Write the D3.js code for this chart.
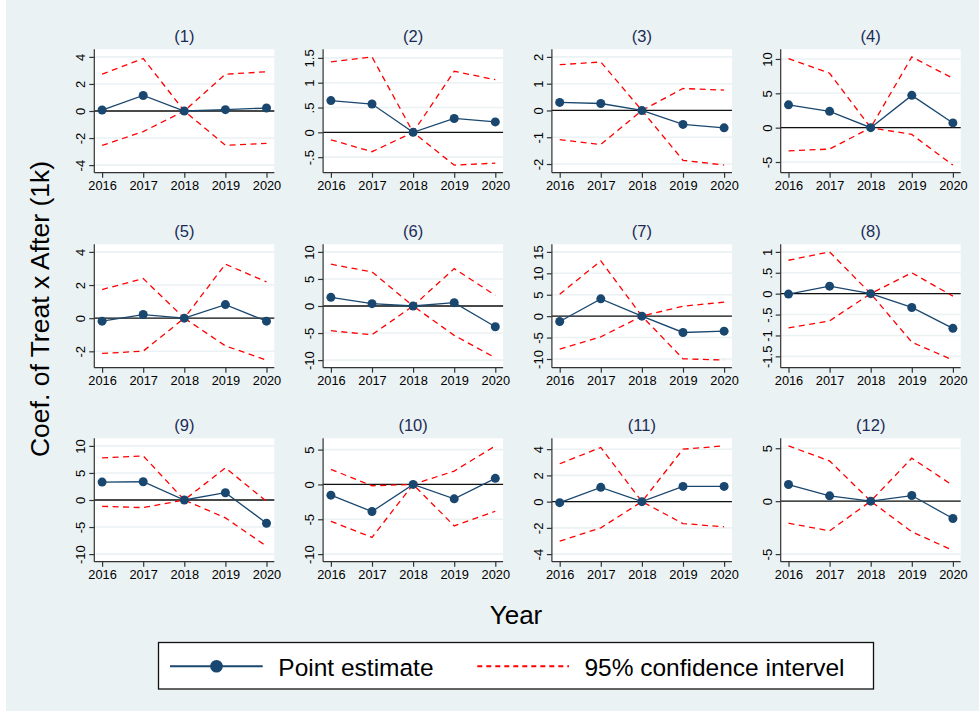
<!DOCTYPE html>
<html>
<head>
<meta charset="utf-8">
<script src="https://cdn.jsdelivr.net/npm/d3@7"></script>
<style>
  body { margin: 0; background: #fff; }
  svg { display: block; font-family: "Liberation Sans", Arial, sans-serif; }
</style>
</head>
<body>
<script>
// event study coefficients, one row per panel (2018 is the base year)
var years = [2016, 2017, 2018, 2019, 2020];
var panelTitles = ["(1)", "(2)", "(3)", "(4)", "(5)", "(6)", "(7)", "(8)", "(9)", "(10)", "(11)", "(12)"];

var pointEst = [
  [0.07, 1.15, 0, 0.10, 0.22],
  [0.64, 0.57, 0, 0.28, 0.21],
  [0.30, 0.26, 0, -0.52, -0.65],
  [3.32, 2.38, 0, 4.70, 0.69],
  [-0.18, 0.22, 0, 0.82, -0.18],
  [1.60, 0.43, 0, 0.62, -3.83],
  [-1.24, 4.04, 0, -3.81, -3.50],
  [-0.01, 0.18, 0, -0.33, -0.83],
  [3.31, 3.37, 0, 1.35, -4.29],
  [-1.54, -3.89, 0, -2.07, 0.87],
  [-0.08, 1.09, 0, 1.16, 1.16],
  [1.57, 0.50, 0, 0.53, -1.64]
];

var ciUpper = [
  [2.72, 3.88, 0, 2.72, 2.90],
  [1.42, 1.52, 0, 1.23, 1.06],
  [1.71, 1.81, 0, 0.82, 0.76],
  [10.05, 7.92, 0, 10.30, 7.18],
  [1.73, 2.39, 0, 3.26, 2.19],
  [7.72, 6.30, 0, 6.91, 1.98],
  [5.13, 12.90, 0, 2.33, 3.26],
  [0.80, 1.00, 0, 0.50, -0.06],
  [7.79, 8.16, 0, 5.95, -0.25],
  [2.16, -0.19, 0, 1.92, 5.53],
  [2.89, 4.13, 0, 4.00, 4.25],
  [5.22, 3.80, 0, 4.06, 1.48]
];

var ciLower = [
  [-2.55, -1.52, 0, -2.53, -2.40],
  [-0.15, -0.39, 0, -0.66, -0.62],
  [-1.09, -1.27, 0, -1.86, -2.04],
  [-3.37, -3.12, 0, -0.99, -5.45],
  [-2.13, -1.99, 0, -1.67, -2.53],
  [-4.57, -5.31, 0, -5.43, -9.57],
  [-7.69, -4.82, 0, -9.95, -10.26],
  [-0.82, -0.65, 0, -1.16, -1.59],
  [-1.17, -1.41, 0, -3.31, -8.53],
  [-5.29, -7.60, 0, -5.96, -3.85],
  [-3.01, -2.00, 0, -1.67, -1.92],
  [-2.08, -2.80, 0, -2.89, -4.65]
];

var yTicks = [
  [-4, -2, 0, 2, 4],
  [-0.5, 0, 0.5, 1, 1.5],
  [-2, -1, 0, 1, 2],
  [-5, 0, 5, 10],
  [-2, 0, 2, 4],
  [-10, -5, 0, 5, 10],
  [-10, -5, 0, 5, 10, 15],
  [-1.5, -1, -0.5, 0, 0.5, 1],
  [-10, -5, 0, 5, 10],
  [-10, -5, 0, 5],
  [-4, -2, 0, 2, 4],
  [-5, 0, 5]
];

var legendLabels = ["Point estimate", "95% confidence intervel"];

/* sizes */
var totalWidth = 979;
var totalHeight = 717;
var plotW = 180;
var plotH = 123.4;
var firstLeft = 94.3;
var colStep = 228.8;
var rowTops = [49.3, 244.3, 438.3];
var padX = 7.8;
var padY = 7.6;

var navy = "#1a476f";
var red = "#ff0000";
var bg = "#eaf2f3";

var svg = d3.select("body")
            .append("svg")
            .attr("width", totalWidth)
            .attr("height", totalHeight);

// graph background
svg.append("rect")
   .attr("x", 6)
   .attr("y", 0)
   .attr("width", totalWidth - 6)
   .attr("height", 711)
   .attr("fill", bg);

// stata style labels: .5 instead of 0.5
function fmt(v) {
  return String(v).replace(/^0\./, ".").replace(/^-0\./, "-.");
}

var xScale = d3.scaleLinear()
               .domain([years[0], years[years.length - 1]])
               .range([padX, plotW - padX]);

for (let p = 0; p < 12; p++) {
  let plotLeft = firstLeft + (p % 4) * colStep;
  let plotTop = rowTops[Math.floor(p / 4)];

  let allVals = yTicks[p].concat(ciUpper[p], ciLower[p], pointEst[p]);
  let yScale = d3.scaleLinear()
                 .domain([d3.min(allVals), d3.max(allVals)])
                 .range([plotH - padY, padY]);

  let g = svg.append("g")
             .attr("transform", "translate(" + plotLeft + "," + plotTop + ")");

  // plot region
  g.append("rect")
   .attr("width", plotW)
   .attr("height", plotH)
   .attr("fill", "#fff");

  // gridlines
  g.selectAll(".grid")
   .data(yTicks[p])
   .enter()
   .append("line")
   .attr("class", "grid")
   .attr("x1", 0)
   .attr("x2", plotW)
   .attr("y1", function(d) { return yScale(d); })
   .attr("y2", function(d) { return yScale(d); })
   .attr("stroke", bg)
   .attr("stroke-width", 1.6);

  // zero line
  g.append("line")
   .attr("x1", 0)
   .attr("x2", plotW)
   .attr("y1", yScale(0))
   .attr("y2", yScale(0))
   .attr("stroke", "#111")
   .attr("stroke-width", 1.3);

  let line = d3.line()
               .x(function(d, i) { return xScale(years[i]); })
               .y(function(d) { return yScale(d); });

  // confidence interval
  [ciUpper[p], ciLower[p]].forEach(function(ci) {
    g.append("path")
     .attr("d", line(ci))
     .attr("fill", "none")
     .attr("stroke", red)
     .attr("stroke-width", 1.3)
     .attr("stroke-dasharray", "6,4.5");
  });

  // point estimates
  g.append("path")
   .attr("d", line(pointEst[p]))
   .attr("fill", "none")
   .attr("stroke", navy)
   .attr("stroke-width", 1.3);

  g.selectAll("circle")
   .data(pointEst[p])
   .enter()
   .append("circle")
   .attr("cx", function(d, i) { return xScale(years[i]); })
   .attr("cy", function(d) { return yScale(d); })
   .attr("r", 4.5)
   .attr("fill", navy);

  // y axis
  let yAxis = g.append("g")
               .call(d3.axisLeft(yScale).tickValues(yTicks[p]).tickFormat(fmt).tickSize(5).tickSizeOuter(0));
  yAxis.select(".domain").remove();
  yAxis.selectAll("line").attr("stroke", "#333").attr("stroke-width", 1.2);
  yAxis.selectAll("text")
       .attr("transform", "rotate(-90)")
       .attr("x", 0)
       .attr("y", -9)
       .attr("dy", 0)
       .attr("fill", "#000")
       .attr("font-size", 13)
       .attr("font-family", "Liberation Sans, Arial, sans-serif")
       .style("text-anchor", "middle");

  // x axis
  let xAxis = g.append("g")
               .attr("transform", "translate(0," + plotH + ")")
               .call(d3.axisBottom(xScale).tickValues(years).tickFormat(d3.format("d")).tickSize(5).tickSizeOuter(0));
  xAxis.select(".domain").remove();
  xAxis.selectAll("line").attr("stroke", "#333").attr("stroke-width", 1.2);
  xAxis.selectAll("text")
       .attr("y", 17)
       .attr("dy", 0)
       .attr("fill", "#000")
       .attr("font-size", 12.8)
       .attr("font-family", "Liberation Sans, Arial, sans-serif");

  // axis lines over full plot region
  g.append("line")
   .attr("x1", 0).attr("x2", 0)
   .attr("y1", 0).attr("y2", plotH)
   .attr("stroke", "#333")
   .attr("stroke-width", 1.2);
  g.append("line")
   .attr("x1", 0).attr("x2", plotW)
   .attr("y1", plotH).attr("y2", plotH)
   .attr("stroke", "#333")
   .attr("stroke-width", 1.2);

  // panel title
  g.append("text")
   .attr("x", plotW / 2)
   .attr("y", -7.4)
   .attr("text-anchor", "middle")
   .attr("font-size", 16.5)
   .attr("fill", "#1c2b56")
   .text(panelTitles[p]);
}

// axis titles
svg.append("text")
   .attr("transform", "translate(48.5,309) rotate(-90)")
   .attr("text-anchor", "middle")
   .attr("font-size", 26.5)
   .attr("fill", "#000")
   .text("Coef. of Treat x After (1k)");

svg.append("text")
   .attr("x", 516)
   .attr("y", 624)
   .attr("text-anchor", "middle")
   .attr("font-size", 26)
   .attr("fill", "#000")
   .text("Year");

// legend
var legend = svg.append("g");
legend.append("rect")
      .attr("x", 158.5)
      .attr("y", 642.5)
      .attr("width", 715)
      .attr("height", 46.5)
      .attr("fill", "#fff")
      .attr("stroke", "#111")
      .attr("stroke-width", 1.3);

legend.append("line")
      .attr("x1", 170).attr("x2", 262.7)
      .attr("y1", 666.3).attr("y2", 666.3)
      .attr("stroke", navy)
      .attr("stroke-width", 2);
legend.append("circle")
      .attr("cx", 216.5)
      .attr("cy", 666.3)
      .attr("r", 6.3)
      .attr("fill", navy);
legend.append("text")
      .attr("x", 278.3)
      .attr("y", 675.5)
      .attr("font-size", 24.5)
      .attr("fill", "#000")
      .text(legendLabels[0]);

legend.append("line")
      .attr("x1", 477.3).attr("x2", 569)
      .attr("y1", 666.3).attr("y2", 666.3)
      .attr("stroke", red)
      .attr("stroke-width", 2)
      .attr("stroke-dasharray", "5,4");
legend.append("text")
      .attr("x", 584.4)
      .attr("y", 675.5)
      .attr("font-size", 24.5)
      .attr("fill", "#000")
      .text(legendLabels[1]);
</script>
</body>
</html>
